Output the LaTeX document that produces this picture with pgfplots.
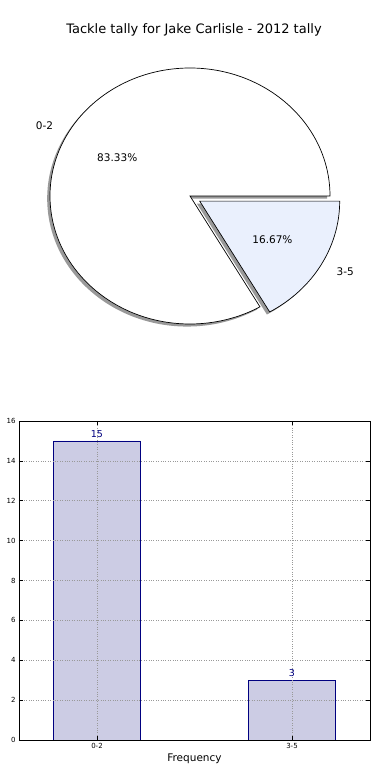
\documentclass[border=0pt]{standalone}
\usepackage{pgfplots}
\pgfplotsset{compat=1.18}
\usepackage{pgfplotstable}
\usepackage{fontspec}
\setmainfont{DejaVu Sans}
\definecolor{barfill}{RGB}{204,204,228}
\definecolor{baredge}{RGB}{0,0,128}
\definecolor{slicetwo}{RGB}{234,240,253}
\pgfplotstableread{
x label count
0 0-2 15
1 3-5 3
}\tally
\newcommand{\lblfont}{\fontsize{10.5}{12}\selectfont}
\begin{document}
\begin{tikzpicture}[x=1pt,y=1pt]
\useasboundingbox (0,0) rectangle (390,780);
\node[font=\fontsize{13}{15}\selectfont] at (194,750) {Tackle tally for Jake Carlisle - 2012 tally};
\pgfplotstablegetelem{0}{count}\of\tally \let\va\pgfplotsretval
\pgfplotstablegetelem{1}{count}\of\tally \let\vb\pgfplotsretval
\pgfmathsetmacro\angA{360*\va/(\va+\vb)}
\pgfmathsetmacro\pA{100*\va/(\va+\vb)}
\pgfmathsetmacro\pB{100*\vb/(\va+\vb)}
\pgfmathsetmacro\midA{\angA/2}
\pgfmathsetmacro\midB{\angA+(360-\angA)/2}
\pgfmathsetmacro\bx{0.08*cos(\midB)}
\pgfmathsetmacro\by{0.08*sin(\midB)}
\pgfmathsetmacro\bsx{\bx+cos(\angA)}
\pgfmathsetmacro\bsy{\by+sin(\angA)}
\begin{axis}[at={(190pt,584pt)}, anchor=origin, hide axis, x=140pt, y=128pt,
  xmin=-1.3, xmax=1.3, ymin=-1.2, ymax=1.2, clip=false,
  /pgf/number format/assume math mode=true]
% shadows
\fill[black, opacity=0.4] (axis cs:-0.02,-0.02) -- (axis cs:0.98,-0.02)
  arc[start angle=0, end angle=\angA, x radius=140pt, y radius=128pt] -- cycle;
\fill[black, opacity=0.4] (axis cs:{\bx-0.02},{\by-0.02}) -- (axis cs:{\bsx-0.02},{\bsy-0.02})
  arc[start angle=\angA, end angle=360, x radius=140pt, y radius=128pt] -- cycle;
% wedges
\filldraw[fill=white, draw=black, line width=0.7pt] (axis cs:0,0) -- (axis cs:1,0)
  arc[start angle=0, end angle=\angA, x radius=140pt, y radius=128pt] -- cycle;
\filldraw[fill=slicetwo, draw=black, line width=0.7pt] (axis cs:\bx,\by) -- (axis cs:\bsx,\bsy)
  arc[start angle=\angA, end angle=360, x radius=140pt, y radius=128pt] -- cycle;
% labels
\node[anchor=east, font=\lblfont] at (axis cs:{1.1*cos(\midA)},{1.1*sin(\midA)}) {0-2};
\node[anchor=west, font=\lblfont] at (axis cs:{\bx+1.1*cos(\midB)},{\by+1.1*sin(\midB)}) {3-5};
\node[font=\lblfont] at (axis cs:{0.6*cos(\midA)},{0.6*sin(\midA)}) {\pgfmathprintnumber[fixed,precision=2,fixed zerofill,assume math mode=true]{\pA}\%};
\node[font=\lblfont] at (axis cs:{\bx+0.6*cos(\midB)},{\by+0.6*sin(\midB)}) {\pgfmathprintnumber[fixed,precision=2,fixed zerofill,assume math mode=true]{\pB}\%};
\end{axis}
\begin{axis}[at={(19pt,40pt)}, anchor=south west, scale only axis,
  width=351pt, height=319pt,
  xmin=-0.4, xmax=1.4, ymin=0, ymax=16,
  ytick={0,2,...,16}, xtick={0,1}, xticklabels={0-2,3-5},
  grid=major, grid style={dotted, gray!80, line width=0.6pt},
  tick align=inside, major tick length=4pt, tick pos=both,
  tick style={black, line width=0.5pt},
  tick label style={font=\fontsize{7}{8}\selectfont},
  /pgf/number format/assume math mode=true,
  xlabel={Frequency}, ylabel={Occurrences},
  label style={font=\lblfont},
  xlabel style={yshift=2pt},
  ylabel style={overlay},
  axis line style={black, line width=0.8pt},
  axis on top]
\addplot[ybar, bar width=87pt, fill=barfill, draw=baredge, line width=0.7pt,
  nodes near coords, nodes near coords style={font=\fontsize{9.5}{11}\selectfont, text=baredge}]
  table[x=x, y=count] {\tally};
\end{axis}
\end{tikzpicture}
\end{document}
